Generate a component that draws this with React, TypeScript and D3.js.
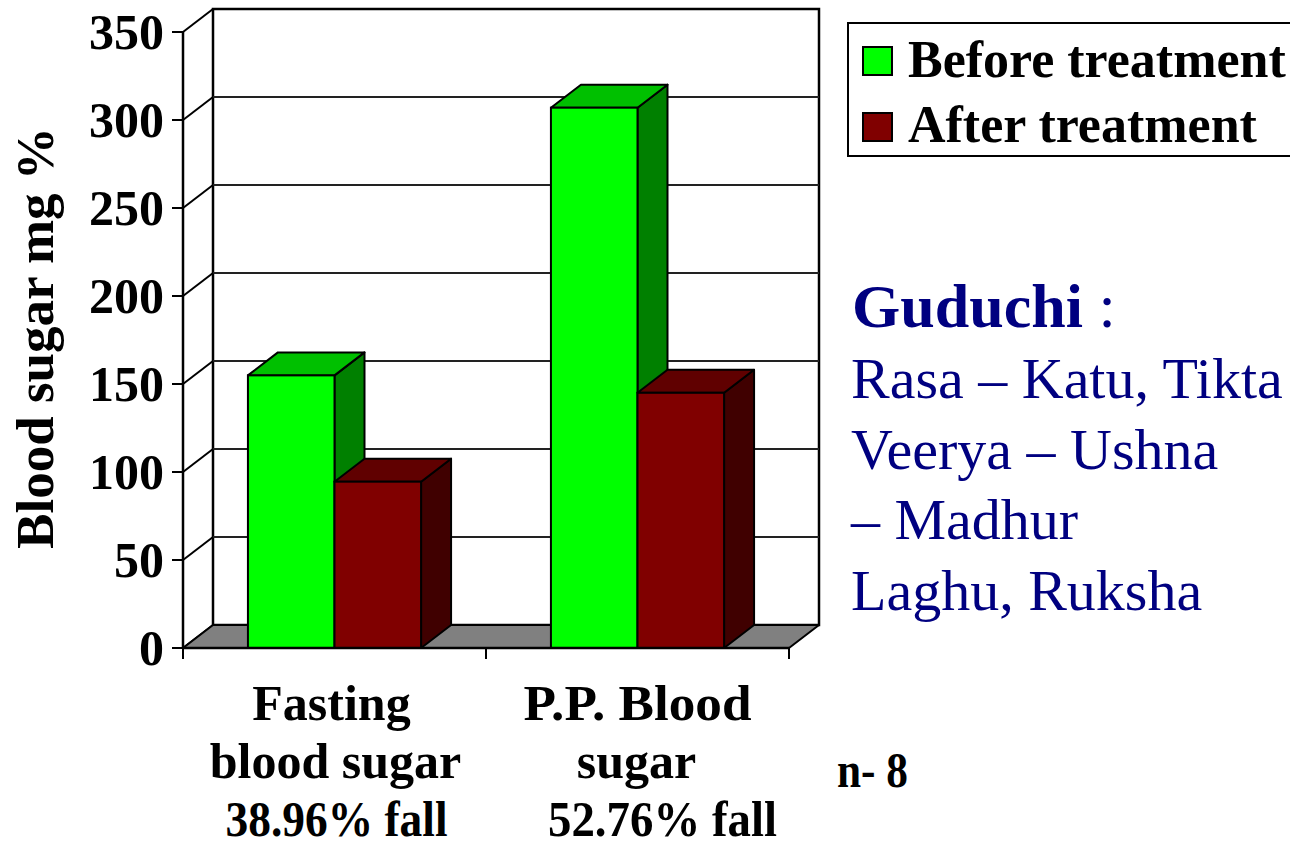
import React from 'react';
import * as d3 from 'd3';

// chart data
const categories = ['Fasting blood sugar', 'P.P. Blood sugar'];
const seriesNames = ['Before treatment', 'After treatment'];
const beforeValues = [154.9, 307.0];
const afterValues = [94.5, 145.0];
const yTicks = [0, 50, 100, 150, 200, 250, 300, 350];
const categoryLines = [
  ['Fasting', 'blood sugar', '38.96% fall'],
  ['P.P. Blood', 'sugar', '52.76% fall'],
];
const infoLines = ['Rasa – Katu, Tikta', 'Veerya – Ushna', '– Madhur', 'Laghu, Ruksha'];

const FONT = '"Liberation Serif", "Times New Roman", serif';
const NAVY = '#000080';

const palette = {
  'Before treatment': { front: '#00ff00', top: '#00c000', side: '#008000' },
  'After treatment': { front: '#800000', top: '#600000', side: '#400000' },
};

export default function App() {
  const width = 1290;
  const height = 846;
  // 3d depth offset
  const dx = 30;
  const dy = -23;

  const x = d3.scaleBand().domain(categories).range([183, 789]).padding(0);
  const x1 = d3.scaleBand().domain(seriesNames).range([0, x.bandwidth()]).paddingInner(0).paddingOuter(0.75);
  const y = d3.scaleLinear().domain([0, 350]).range([648, 32]);

  const values = [beforeValues, afterValues];
  const y0 = y(0);
  const left = x.range()[0];
  const right = x.range()[1];
  const stroke = '#000';

  const bars = categories.flatMap((c, ci) =>
    seriesNames.map((s, si) => {
      const bx = (x(c) || 0) + (x1(s) || 0);
      const bw = x1.bandwidth();
      const top = y(values[si][ci]);
      const col = palette[s];
      return (
        <g key={c + s}>
          <polygon
            points={`${bx + bw},${top} ${bx + bw + dx},${top + dy} ${bx + bw + dx},${y0 + dy} ${bx + bw},${y0}`}
            fill={col.side} stroke={stroke} strokeWidth={2} strokeLinejoin="round"
          />
          <polygon
            points={`${bx},${top} ${bx + dx},${top + dy} ${bx + bw + dx},${top + dy} ${bx + bw},${top}`}
            fill={col.top} stroke={stroke} strokeWidth={2} strokeLinejoin="round"
          />
          <rect x={bx} y={top} width={bw} height={y0 - top} fill={col.front} stroke={stroke} strokeWidth={2} />
        </g>
      );
    })
  );

  // label tweaks so the widths match the slide's typeface
  const lineShift = [[-3, 1, 2], [0, -1, 25]];
  const lineLength: (number | undefined)[][] = [[undefined, undefined, 222], [228, undefined, 229]];

  return (
    <svg width={width} height={height} style={{ position: 'absolute', left: 0, top: 0, background: '#fff' }} fontFamily={FONT}>
      {/* back wall */}
      <rect x={left + dx} y={y(350) + dy} width={right - left} height={y0 - y(350)} fill="#fff" stroke={stroke} strokeWidth={2.5} />
      {yTicks.filter(t => t > 0 && t < 350).map(t => (
        <line key={'g' + t} x1={left + dx} x2={right + dx} y1={y(t) + dy} y2={y(t) + dy} stroke="#222" strokeWidth={2} />
      ))}
      {/* side wall lines */}
      {yTicks.map(t => (
        <line key={'s' + t} x1={left} x2={left + dx} y1={y(t)} y2={y(t) + dy} stroke={stroke} strokeWidth={2} />
      ))}
      {/* floor */}
      <polygon
        points={`${left},${y0} ${left + dx},${y0 + dy} ${right + dx},${y0 + dy} ${right},${y0}`}
        fill="#808080" stroke={stroke} strokeWidth={2} strokeLinejoin="round"
      />

      {bars}

      {/* y axis */}
      <line x1={left} x2={left} y1={y(350)} y2={y0 + 1} stroke={stroke} strokeWidth={2.5} />
      {yTicks.map(t => (
        <g key={'t' + t}>
          <line x1={left - 11} x2={left} y1={y(t)} y2={y(t)} stroke={stroke} strokeWidth={2} />
          <text x={164} y={y(t)} dy="0.34em" textAnchor="end" fontSize={50} fontWeight="bold">{t}</text>
        </g>
      ))}
      <text transform="translate(53, 338) rotate(-90)" textAnchor="middle" fontSize={53} fontWeight="bold">Blood sugar mg %</text>

      {/* x axis */}
      <line x1={left} x2={right} y1={y0} y2={y0} stroke={stroke} strokeWidth={2.5} />
      {[left, x(categories[1]) || 0, right].map((v, i) => (
        <line key={'xt' + i} x1={v} x2={v} y1={y0} y2={y0 + 11} stroke={stroke} strokeWidth={2} />
      ))}
      {categoryLines.map((lines, ci) => {
        const cx = (x(categories[ci]) || 0) + x.bandwidth() / 2;
        return lines.map((ln, li) => (
          <text
            key={ci + '-' + li}
            x={cx + lineShift[ci][li]}
            y={720 + li * 58}
            textAnchor="middle"
            fontSize={50}
            fontWeight="bold"
            textLength={lineLength[ci][li]}
            lengthAdjust={lineLength[ci][li] ? 'spacingAndGlyphs' : undefined}
          >
            {ln}
          </text>
        ));
      })}
      <text x={837} y={787} fontSize={50} fontWeight="bold" textLength={71} lengthAdjust="spacingAndGlyphs">n- 8</text>

      {/* legend */}
      <rect x={848} y={23} width={470} height={133} fill="#fff" stroke={stroke} strokeWidth={2} />
      {seriesNames.map((s, i) => (
        <g key={'l' + s}>
          <rect x={863} y={47 + i * 66} width={29} height={28} fill={palette[s].front} stroke={stroke} strokeWidth={2} />
          <text x={908} y={77 + i * 65} fontSize={52} fontWeight="bold">{s}</text>
        </g>
      ))}

      {/* side note */}
      <text x={852} y={327} fill={NAVY} fontSize={62}>
        <tspan fontWeight="bold">Guduchi</tspan>
        <tspan> :</tspan>
      </text>
      {infoLines.map((ln, i) => (
        <text key={'i' + i} x={851} y={398 + i * 70.7} fill={NAVY} fontSize={58}>{ln}</text>
      ))}
    </svg>
  );
}
